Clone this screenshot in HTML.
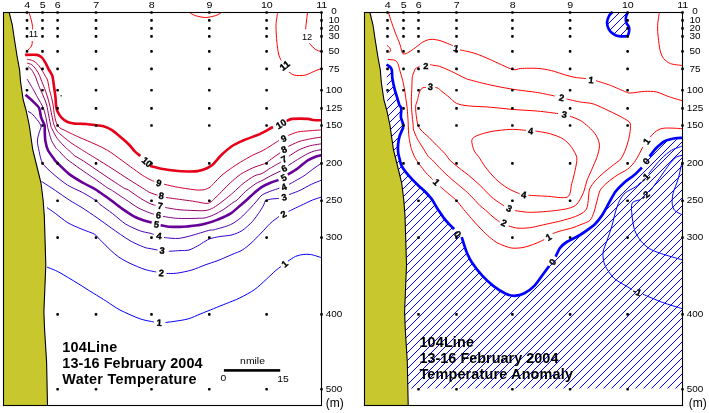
<!DOCTYPE html>
<html><head><meta charset="utf-8"><title>104 Line</title>
<style>
html,body{margin:0;padding:0;background:#fff}
svg{display:block;will-change:transform}
text{font-family:"Liberation Sans",Arial,sans-serif;fill:#000}
.tk{font-size:9.2px}
.ti{font-size:14.4px;font-weight:bold}
</style></head><body>
<svg width="709" height="413" viewBox="0 0 709 413">
<rect x="0" y="0" width="709" height="413" fill="#fff"/>
<polygon points="3.5,12.5 9.2,12.5 12.3,25.0 14.2,38.0 17.2,57.0 19.6,70.0 20.6,82.0 23.2,100.0 26.0,110.0 29.2,125.0 32.8,150.0 36.8,166.0 41.0,183.0 43.1,200.0 44.3,216.0 44.9,235.0 45.8,265.0 43.9,312.0 44.6,330.0 46.6,362.0 47.5,405.5 3.5,405.5" fill="rgb(200,200,46)"/>
<polyline points="9.2,12.5 12.3,25.0 14.2,38.0 17.2,57.0 19.6,70.0 20.6,82.0 23.2,100.0 26.0,110.0 29.2,125.0 32.8,150.0 36.8,166.0 41.0,183.0 43.1,200.0 44.3,216.0 44.9,235.0 45.8,265.0 43.9,312.0 44.6,330.0 46.6,362.0 47.5,405.5" fill="none" stroke="#000" stroke-width="1.1"/>
<rect x="60.5" y="95.2" width="1.2" height="1.2"/>
<path d="M29.0,12.5 C29.3,13.4 30.5,17.2 31.0,19.0 C31.5,20.8 32.1,23.5 32.3,25.0 C32.5,26.5 32.6,28.9 32.6,29.5" fill="none" stroke="rgb(255,0,0)" stroke-width="1" stroke-linecap="butt" stroke-linejoin="round"/>
<path d="M32.3,41.0 C32.2,41.7 32.3,44.6 31.5,46.0 C30.7,47.4 27.6,50.3 27.0,51.0" fill="none" stroke="rgb(255,0,0)" stroke-width="1" stroke-linecap="butt" stroke-linejoin="round"/>
<text transform="translate(33.4,33.4) rotate(0)" text-anchor="middle" y="3.3" style="font-size:9.2px">11</text>
<path d="M189.3,12.5 C190.2,12.9 193.0,14.9 195.3,15.6 C197.6,16.3 202.5,17.5 205.4,17.5 C208.3,17.5 213.3,16.3 215.6,15.6 C217.9,14.9 220.7,12.9 221.5,12.5" fill="none" stroke="rgb(255,0,0)" stroke-width="1" stroke-linecap="butt" stroke-linejoin="round"/>
<path d="M277.6,12.5 C277.4,14.3 276.1,21.1 276.0,25.4 C275.9,29.7 276.5,38.3 276.9,42.4 C277.3,46.5 278.0,51.4 278.6,54.0 C279.2,56.6 280.7,59.5 281.1,60.4" fill="none" stroke="rgb(255,0,0)" stroke-width="1" stroke-linecap="butt" stroke-linejoin="round"/>
<path d="M289.2,72.2 C289.9,72.6 292.2,74.8 294.4,75.2 C296.6,75.6 302.0,75.7 304.8,75.2 C307.6,74.7 311.3,72.5 313.7,71.5 C316.1,70.5 320.4,68.9 321.5,68.5" fill="none" stroke="rgb(255,0,0)" stroke-width="1" stroke-linecap="butt" stroke-linejoin="round"/>
<text transform="translate(284.6,65.5) rotate(-38)" text-anchor="middle" y="3.3" style="font-weight:bold;stroke:#000;stroke-width:0.35px;font-size:9.3px">11</text>
<path d="M307.5,12.5 C307.4,13.7 306.8,18.6 306.5,21.0 C306.2,23.4 305.7,28.0 305.6,29.2" fill="none" stroke="rgb(255,0,0)" stroke-width="1" stroke-linecap="butt" stroke-linejoin="round"/>
<path d="M309.3,43.3 C310.1,44.2 313.5,48.1 315.2,49.3 C316.9,50.5 320.6,51.4 321.5,51.7" fill="none" stroke="rgb(255,0,0)" stroke-width="1" stroke-linecap="butt" stroke-linejoin="round"/>
<text transform="translate(307.0,36.7) rotate(0)" text-anchor="middle" y="3.3" style="font-size:9.2px">12</text>
<path d="M47.0,267.1 C48.7,267.8 54.6,269.8 59.0,272.2 C63.4,274.6 73.2,280.6 78.1,283.6 C83.0,286.6 89.2,290.7 93.3,293.2 C97.4,295.7 102.8,299.0 106.6,301.4 C110.4,303.8 115.2,307.5 120.0,310.0 C124.8,312.5 135.2,317.1 140.0,318.8 C144.8,320.5 151.8,321.5 153.8,322.0" fill="none" stroke="rgb(0,0,255)" stroke-width="1" stroke-linecap="butt" stroke-linejoin="round"/>
<path d="M165.5,322.5 C166.7,322.3 170.9,321.9 174.1,321.4 C177.3,320.9 184.3,320.0 188.1,318.9 C191.9,317.8 197.2,315.3 200.8,313.8 C204.4,312.3 209.9,310.2 213.5,308.7 C217.1,307.2 222.4,305.1 226.2,303.6 C230.0,302.1 235.8,299.9 239.9,297.9 C244.0,295.9 251.0,292.1 254.8,289.4 C258.6,286.7 263.4,281.9 266.3,279.3 C269.2,276.7 273.1,272.8 275.2,271.0 C277.3,269.2 280.1,267.2 280.9,266.6" fill="none" stroke="rgb(0,0,255)" stroke-width="1" stroke-linecap="butt" stroke-linejoin="round"/>
<path d="M287.9,261.2 C289.0,260.5 293.3,257.4 295.5,256.4 C297.7,255.4 300.9,254.8 303.1,254.5 C305.3,254.2 308.1,254.1 310.7,254.5 C313.3,254.9 319.8,257.2 321.3,257.6" fill="none" stroke="rgb(0,0,255)" stroke-width="1" stroke-linecap="butt" stroke-linejoin="round"/>
<path d="M47.0,207.6 C48.2,208.4 52.2,211.1 55.2,213.3 C58.2,215.5 64.1,220.5 67.9,222.8 C71.7,225.1 78.1,227.6 81.9,229.2 C85.7,230.8 92.1,232.8 94.6,234.3 C97.1,235.8 97.4,237.1 99.7,239.4 C102.0,241.7 108.1,247.9 110.8,250.4 C113.5,252.9 116.0,255.2 118.7,257.0 C121.4,258.8 126.1,261.5 129.9,263.3 C133.7,265.1 141.2,268.3 145.0,269.5 C148.8,270.7 154.7,271.6 156.3,272.0" fill="none" stroke="rgb(26,0,230)" stroke-width="1" stroke-linecap="butt" stroke-linejoin="round"/>
<path d="M166.5,273.4 C168.0,273.4 173.1,273.7 176.7,273.2 C180.3,272.7 187.9,271.2 191.9,270.0 C195.9,268.8 201.3,266.4 205.0,265.0 C208.7,263.6 214.1,262.0 218.0,260.5 C221.9,259.0 228.5,256.0 232.0,254.5 C235.5,253.0 239.5,251.7 242.2,250.1 C244.9,248.5 248.3,245.6 251.0,243.2 C253.7,240.8 258.5,235.8 261.2,233.0 C263.9,230.2 267.6,225.9 270.1,223.5 C272.6,221.1 277.7,217.5 279.0,216.5" fill="none" stroke="rgb(26,0,230)" stroke-width="1" stroke-linecap="butt" stroke-linejoin="round"/>
<path d="M288.5,211.4 C290.2,210.6 297.1,207.3 300.5,205.7 C303.9,204.1 309.6,201.2 312.6,200.0 C315.6,198.8 320.1,197.5 321.3,197.1" fill="none" stroke="rgb(26,0,230)" stroke-width="1" stroke-linecap="butt" stroke-linejoin="round"/>
<path d="M41.5,181.4 C43.5,182.7 51.7,188.0 55.7,190.7 C59.7,193.4 65.5,197.6 69.2,200.0 C72.9,202.4 77.9,205.1 81.9,207.6 C85.9,210.1 92.9,214.9 97.1,217.8 C101.3,220.7 106.4,224.6 111.1,227.9 C115.8,231.2 125.1,237.8 129.9,240.6 C134.7,243.4 142.1,246.4 145.0,247.5 C147.9,248.6 148.2,248.1 150.0,248.5 C151.8,248.9 156.4,249.8 157.5,250.0" fill="none" stroke="rgb(51,0,204)" stroke-width="1" stroke-linecap="butt" stroke-linejoin="round"/>
<path d="M168.8,251.3 C170.4,251.2 177.1,250.8 180.0,250.6 C182.9,250.4 186.5,250.7 189.0,250.0 C191.5,249.3 195.2,247.2 197.5,246.0 C199.8,244.8 203.3,242.3 205.1,241.3 C206.9,240.3 207.9,239.4 210.0,238.7 C212.1,238.0 216.9,237.0 220.0,236.5 C223.1,236.0 228.8,235.8 232.0,234.9 C235.2,234.0 239.3,232.4 242.2,230.5 C245.1,228.6 249.8,224.3 252.3,221.6 C254.8,218.9 258.3,213.8 259.9,211.4 C261.5,209.0 262.9,206.5 263.7,205.0 C264.5,203.5 264.4,201.7 265.4,200.9 C266.4,200.1 268.6,199.6 270.5,199.2 C272.4,198.8 277.7,198.5 278.9,198.4" fill="none" stroke="rgb(51,0,204)" stroke-width="1" stroke-linecap="butt" stroke-linejoin="round"/>
<path d="M289.1,194.6 C290.7,194.0 296.9,191.8 300.1,190.3 C303.3,188.8 308.2,185.8 311.2,184.4 C314.2,183.0 319.9,180.8 321.3,180.2" fill="none" stroke="rgb(51,0,204)" stroke-width="1" stroke-linecap="butt" stroke-linejoin="round"/>
<path d="M28.0,111.4 C28.7,111.8 30.9,112.5 32.7,114.5 C34.5,116.5 39.9,122.7 40.8,125.3 C41.7,127.9 39.5,130.8 39.0,133.0 C38.5,135.2 37.4,138.4 37.4,141.0 C37.4,143.6 38.4,148.0 39.1,151.2 C39.8,154.4 40.6,160.0 42.6,163.2 C44.6,166.4 49.4,170.6 52.9,173.7 C56.4,176.8 63.2,182.3 67.4,185.0 C71.6,187.7 78.4,190.3 82.5,192.5 C86.6,194.7 93.5,198.9 96.0,200.6 C98.5,202.3 97.6,202.5 100.0,204.4 C102.4,206.3 109.1,210.9 112.7,213.7 C116.3,216.5 121.5,221.4 125.4,223.9 C129.3,226.4 136.8,229.6 140.3,230.9 C143.8,232.2 148.1,232.7 150.0,233.2 C151.9,233.7 153.3,234.3 153.8,234.5" fill="none" stroke="rgb(76,0,178)" stroke-width="1" stroke-linecap="butt" stroke-linejoin="round"/>
<path d="M164.0,237.5 C165.1,237.6 169.8,238.2 172.0,238.3 C174.2,238.4 177.0,238.7 179.7,238.3 C182.4,237.9 187.7,236.6 190.7,235.8 C193.7,235.0 198.0,233.6 200.8,232.8 C203.6,232.0 208.1,230.5 210.0,230.1 C211.9,229.7 211.4,230.5 214.3,229.7 C217.2,228.9 226.6,226.4 230.4,224.7 C234.2,223.0 237.9,220.1 240.6,217.9 C243.3,215.7 246.7,211.9 249.1,209.4 C251.5,206.9 255.7,202.2 257.5,200.1 C259.3,198.0 260.1,196.3 262.0,195.0 C263.9,193.7 268.0,192.2 270.5,191.2 C273.0,190.2 278.1,188.6 279.4,188.2" fill="none" stroke="rgb(76,0,178)" stroke-width="1" stroke-linecap="butt" stroke-linejoin="round"/>
<path d="M289.1,184.4 C290.7,183.5 297.8,179.4 300.1,178.1 C302.4,176.8 303.4,176.3 305.2,175.0 C307.0,173.7 310.5,170.9 312.8,169.2 C315.1,167.5 320.1,164.1 321.3,163.3" fill="none" stroke="rgb(76,0,178)" stroke-width="1" stroke-linecap="butt" stroke-linejoin="round"/>
<path d="M27.2,79.2 C27.7,80.0 29.8,83.7 30.6,85.0 C31.4,86.3 31.7,86.7 32.7,88.5 C33.7,90.3 36.3,95.1 37.8,97.8 C39.3,100.5 41.8,104.6 42.9,107.1 C44.0,109.6 44.7,112.5 45.4,115.2 C46.1,117.9 47.1,124.1 47.5,126.2 C47.9,128.3 47.8,128.0 48.4,130.0 C49.0,132.0 50.3,137.5 51.4,140.2 C52.5,142.9 55.4,147.2 56.4,148.6 C57.4,150.0 57.4,149.2 58.5,150.3 C59.6,151.4 62.5,154.9 64.1,156.5 C65.7,158.1 67.1,159.4 69.9,161.5 C72.7,163.6 79.8,168.6 83.5,171.2 C87.2,173.8 92.5,177.3 96.0,179.7 C99.5,182.1 105.5,186.5 107.7,188.0 C109.9,189.5 108.9,188.4 111.4,190.0 C113.9,191.6 121.6,196.8 125.4,199.3 C129.2,201.8 134.9,206.0 138.1,207.8 C141.3,209.6 145.3,211.1 147.5,212.0 C149.7,212.9 152.9,213.9 153.8,214.2" fill="none" stroke="rgb(128,0,128)" stroke-width="1" stroke-linecap="butt" stroke-linejoin="round"/>
<path d="M163.1,216.4 C164.9,216.7 171.8,217.9 175.4,218.2 C179.0,218.5 184.7,218.5 188.1,218.5 C191.5,218.5 196.8,218.3 199.2,218.2 C201.6,218.1 203.0,218.4 205.0,217.9 C207.0,217.4 210.8,216.1 213.5,214.9 C216.2,213.7 220.8,211.2 223.6,209.4 C226.4,207.6 231.1,203.9 233.0,202.6 C234.9,201.3 235.3,201.6 237.1,200.0 C238.9,198.4 243.0,193.6 245.7,191.3 C248.4,189.0 253.5,185.1 255.8,183.6 C258.1,182.1 259.9,181.7 262.0,180.6 C264.1,179.5 267.8,177.3 270.5,175.9 C273.2,174.5 279.2,171.7 280.6,171.0" fill="none" stroke="rgb(128,0,128)" stroke-width="1" stroke-linecap="butt" stroke-linejoin="round"/>
<path d="M288.3,165.4 C289.6,164.6 294.8,161.2 297.6,159.5 C300.4,157.8 305.4,154.8 307.8,153.6 C310.2,152.4 312.6,151.6 314.5,151.0 C316.4,150.4 320.3,149.9 321.3,149.7" fill="none" stroke="rgb(128,0,128)" stroke-width="1" stroke-linecap="butt" stroke-linejoin="round"/>
<path d="M28.0,66.5 C28.6,67.0 30.9,68.9 31.9,70.3 C32.9,71.7 34.6,74.9 35.3,76.3 C36.0,77.7 36.1,78.4 36.7,80.0 C37.3,81.6 38.5,85.2 39.5,87.6 C40.5,90.0 42.7,94.5 43.7,97.0 C44.7,99.5 46.0,102.3 46.7,105.0 C47.4,107.7 48.2,113.0 48.8,116.0 C49.4,119.0 50.4,124.2 50.9,126.2 C51.4,128.2 51.7,128.2 52.6,130.0 C53.5,131.8 55.4,136.0 57.3,138.5 C59.2,141.0 64.2,146.2 65.8,147.8 C67.4,149.4 67.4,148.9 68.6,150.0 C69.8,151.1 72.1,153.8 74.2,155.4 C76.3,157.0 80.4,159.0 83.5,161.0 C86.6,163.0 91.9,166.7 96.0,169.5 C100.1,172.3 108.0,177.7 112.0,180.3 C116.0,182.9 121.5,186.6 123.8,188.0 C126.1,189.4 126.0,188.5 128.4,190.0 C130.8,191.5 137.6,196.6 140.7,198.5 C143.8,200.4 147.9,202.6 150.0,203.6 C152.1,204.6 154.7,205.1 155.5,205.3" fill="none" stroke="rgb(153,0,102)" stroke-width="1" stroke-linecap="butt" stroke-linejoin="round"/>
<path d="M165.3,207.5 C167.1,207.8 174.4,209.2 178.0,209.6 C181.6,210.0 186.8,210.3 190.7,210.4 C194.6,210.5 201.7,211.0 205.0,210.6 C208.3,210.2 211.1,209.0 213.5,207.7 C215.9,206.4 219.5,203.6 221.9,201.8 C224.3,200.0 228.7,196.4 230.4,195.0 C232.1,193.6 232.0,193.7 233.8,192.1 C235.6,190.5 240.2,185.9 243.1,183.6 C246.0,181.3 251.5,177.4 254.2,176.0 C256.9,174.6 259.7,174.6 262.0,173.5 C264.3,172.4 267.8,169.6 270.5,168.0 C273.2,166.4 279.6,162.9 281.1,162.0" fill="none" stroke="rgb(153,0,102)" stroke-width="1" stroke-linecap="butt" stroke-linejoin="round"/>
<path d="M289.1,156.1 C290.4,155.3 295.5,151.7 298.4,150.2 C301.3,148.7 306.2,146.8 309.5,145.9 C312.8,145.0 319.6,144.1 321.3,143.8" fill="none" stroke="rgb(153,0,102)" stroke-width="1" stroke-linecap="butt" stroke-linejoin="round"/>
<path d="M27.2,63.1 C27.9,63.3 30.6,63.9 31.9,64.8 C33.2,65.7 35.0,68.0 36.1,69.5 C37.2,71.0 38.8,73.9 39.5,75.4 C40.2,76.9 40.5,78.1 41.2,80.0 C41.9,81.9 43.7,86.1 44.6,88.5 C45.5,90.9 46.8,94.6 47.5,97.0 C48.2,99.4 49.1,102.4 49.7,105.0 C50.3,107.6 51.2,112.4 51.8,115.2 C52.4,118.0 53.1,122.2 53.9,124.5 C54.7,126.8 56.1,129.7 57.3,131.3 C58.5,132.9 60.5,134.4 62.4,136.0 C64.3,137.6 68.3,140.9 70.8,142.7 C73.3,144.5 78.4,147.6 80.0,148.6 C81.6,149.6 79.9,148.6 82.2,150.0 C84.5,151.4 91.7,155.9 96.0,158.5 C100.3,161.1 107.3,165.5 112.0,168.5 C116.7,171.5 124.5,176.7 128.9,179.5 C133.3,182.3 139.5,186.1 142.5,188.0 C145.5,189.9 147.8,191.6 150.0,192.6 C152.2,193.6 156.5,194.8 157.6,195.2" fill="none" stroke="rgb(178,0,77)" stroke-width="1" stroke-linecap="butt" stroke-linejoin="round"/>
<path d="M166.1,197.5 C168.0,197.8 175.9,198.9 179.7,199.4 C183.5,199.9 188.9,200.6 192.4,201.1 C195.9,201.6 201.8,202.9 204.2,203.2 C206.6,203.5 207.9,203.5 209.2,203.0 C210.5,202.5 211.7,201.4 213.5,199.7 C215.3,198.0 219.5,193.7 221.9,191.3 C224.3,188.9 227.7,185.2 230.4,182.8 C233.1,180.4 237.4,176.4 240.6,174.3 C243.8,172.2 249.4,169.4 252.5,168.0 C255.6,166.6 260.0,165.3 262.0,164.6 C264.0,163.9 264.6,163.9 266.2,162.9 C267.8,161.9 271.0,159.3 273.0,157.8 C275.0,156.3 279.2,153.4 280.2,152.7" fill="none" stroke="rgb(178,0,77)" stroke-width="1" stroke-linecap="butt" stroke-linejoin="round"/>
<path d="M288.3,146.4 C289.6,145.8 295.5,142.9 297.6,142.1 C299.7,141.3 300.5,141.0 302.7,140.5 C304.9,140.0 310.1,138.9 312.8,138.4 C315.5,137.9 320.1,137.3 321.3,137.1" fill="none" stroke="rgb(178,0,77)" stroke-width="1" stroke-linecap="butt" stroke-linejoin="round"/>
<path d="M27.2,59.3 C28.0,59.5 31.2,59.9 32.7,60.6 C34.2,61.3 36.5,63.0 37.8,64.4 C39.1,65.8 40.9,68.6 42.0,70.3 C43.1,72.0 44.6,74.9 45.4,76.3 C46.2,77.7 47.0,78.3 47.5,80.0 C48.0,81.7 48.6,85.8 49.2,88.5 C49.8,91.2 51.2,96.2 51.8,98.6 C52.4,101.0 52.7,102.8 53.1,105.0 C53.5,107.2 53.8,111.8 54.3,114.3 C54.8,116.8 55.6,120.9 56.4,122.8 C57.2,124.7 58.7,126.9 59.8,127.9 C60.9,128.9 62.3,129.1 64.1,130.0 C65.9,130.9 70.2,133.1 72.5,134.2 C74.8,135.3 76.8,136.2 80.0,137.6 C83.2,139.0 91.0,142.3 95.0,144.1 C99.0,145.9 103.9,148.1 107.7,150.4 C111.5,152.7 118.0,157.7 121.3,160.0 C124.6,162.3 127.6,164.6 130.6,166.8 C133.6,169.0 139.7,173.5 142.5,175.3 C145.3,177.1 148.3,178.7 150.0,179.6 C151.7,180.5 153.6,181.1 154.2,181.3" fill="none" stroke="rgb(204,0,51)" stroke-width="1" stroke-linecap="butt" stroke-linejoin="round"/>
<path d="M164.0,184.2 C165.6,184.6 172.0,186.1 175.4,186.8 C178.8,187.5 184.9,188.4 188.1,188.9 C191.3,189.4 195.2,189.9 197.5,190.0 C199.8,190.1 202.4,190.1 204.2,189.7 C206.0,189.3 208.7,188.1 210.0,187.2 C211.3,186.3 211.8,185.3 213.5,183.6 C215.2,181.9 219.5,177.3 221.9,175.2 C224.3,173.1 227.7,170.7 230.4,168.8 C233.1,166.9 237.4,164.0 240.6,162.1 C243.8,160.2 249.4,156.9 252.5,155.3 C255.6,153.7 259.4,152.3 262.0,151.0 C264.6,149.7 268.1,147.4 270.5,145.9 C272.9,144.4 277.7,141.3 278.9,140.5" fill="none" stroke="rgb(204,0,51)" stroke-width="1" stroke-linecap="butt" stroke-linejoin="round"/>
<path d="M288.3,135.4 C289.6,134.9 294.6,132.7 297.6,132.0 C300.6,131.3 306.1,131.1 309.5,130.8 C312.9,130.5 319.6,130.0 321.3,129.9" fill="none" stroke="rgb(204,0,51)" stroke-width="1" stroke-linecap="butt" stroke-linejoin="round"/>
<path d="M25.5,94.8 C26.5,95.7 30.8,99.3 32.7,101.2 C34.6,103.1 37.9,105.6 39.1,108.0 C40.3,110.4 40.4,115.2 41.2,117.7 C42.0,120.2 44.1,123.5 44.6,125.3 C45.1,127.1 44.6,127.8 44.7,130.0 C44.8,132.2 44.9,138.1 45.4,141.0 C45.9,143.9 46.7,147.5 47.9,150.0 C49.1,152.5 52.6,157.0 53.9,158.8 C55.2,160.6 54.9,160.4 57.2,162.7 C59.5,165.0 66.1,171.7 69.9,174.6 C73.7,177.5 79.9,180.9 83.5,183.0 C87.1,185.1 92.6,187.8 95.0,189.2 C97.4,190.6 97.7,190.9 100.0,192.5 C102.3,194.1 107.9,197.9 111.0,200.2 C114.1,202.5 118.7,206.3 122.0,208.6 C125.3,210.9 130.7,214.6 133.9,216.3 C137.1,218.0 141.6,219.6 144.1,220.5 C146.6,221.4 150.6,222.3 151.7,222.6" fill="none" stroke="rgb(102,0,153)" stroke-width="2.6" stroke-linecap="butt" stroke-linejoin="round"/>
<path d="M160.6,225.2 C161.7,225.4 165.9,226.5 168.6,226.7 C171.3,226.9 176.9,226.9 179.7,226.9 C182.5,226.9 185.6,226.6 188.1,226.4 C190.6,226.2 195.1,225.7 197.5,225.3 C199.9,224.9 202.1,224.6 205.0,223.8 C207.9,223.0 214.1,221.1 217.7,219.6 C221.3,218.1 227.1,215.7 230.4,213.6 C233.7,211.5 238.3,207.1 240.6,205.2 C242.9,203.3 244.7,201.7 246.6,200.0 C248.5,198.3 252.0,194.9 254.2,193.0 C256.4,191.1 259.7,188.4 262.0,186.9 C264.3,185.4 268.1,183.7 270.5,182.7 C272.9,181.7 277.4,180.4 278.5,180.0" fill="none" stroke="rgb(102,0,153)" stroke-width="2.6" stroke-linecap="butt" stroke-linejoin="round"/>
<path d="M287.8,174.7 C289.2,173.8 294.7,170.6 297.6,168.5 C300.5,166.4 305.1,162.0 307.8,160.3 C310.5,158.6 314.3,157.2 316.2,156.5 C318.1,155.8 320.6,155.5 321.3,155.3" fill="none" stroke="rgb(102,0,153)" stroke-width="2.6" stroke-linecap="butt" stroke-linejoin="round"/>
<path d="M25.1,54.9 C26.8,54.9 34.5,54.5 36.9,54.9 C39.3,55.3 40.8,56.5 42.0,57.6 C43.2,58.7 44.4,61.0 45.4,62.7 C46.4,64.4 47.8,67.7 48.8,69.5 C49.8,71.3 51.6,73.9 52.2,75.4 C52.8,76.9 52.8,78.1 53.1,80.0 C53.4,81.9 53.9,85.8 54.3,88.5 C54.7,91.2 55.4,96.2 55.6,98.6 C55.8,101.0 55.8,103.2 56.0,105.0 C56.2,106.8 56.5,109.2 57.3,111.0 C58.1,112.8 60.0,116.1 61.5,117.7 C63.0,119.3 65.7,121.2 67.5,122.0 C69.3,122.8 72.4,123.3 74.2,123.6 C76.0,123.9 78.3,123.7 80.0,123.8 C81.7,123.9 84.1,123.8 86.2,124.0 C88.3,124.2 92.5,124.7 95.0,125.0 C97.5,125.3 101.1,125.6 103.5,126.3 C105.9,127.0 109.6,128.6 112.0,130.1 C114.4,131.6 118.0,134.8 120.4,136.9 C122.8,139.0 126.8,142.4 128.9,144.5 C131.0,146.6 133.2,149.7 134.8,151.3 C136.4,152.9 139.5,155.2 140.3,155.9" fill="none" stroke="rgb(230,0,25)" stroke-width="2.6" stroke-linecap="butt" stroke-linejoin="round"/>
<path d="M150.0,166.0 C151.8,166.4 159.1,168.3 162.7,169.0 C166.3,169.7 171.8,170.3 175.4,170.7 C179.0,171.1 184.9,171.4 188.1,171.5 C191.3,171.6 195.1,171.5 197.5,171.1 C199.9,170.7 203.3,169.7 205.1,169.0 C206.9,168.3 208.8,167.1 210.0,166.4 C211.2,165.7 211.8,165.5 213.5,163.8 C215.2,162.1 219.2,157.0 221.9,154.5 C224.6,152.0 229.1,148.0 232.1,146.0 C235.1,144.0 239.5,142.1 243.1,140.5 C246.7,138.9 254.8,136.1 257.5,135.0 C260.2,133.9 259.8,134.0 262.0,132.9 C264.2,131.8 271.4,127.8 273.0,127.0" fill="none" stroke="rgb(230,0,25)" stroke-width="2.6" stroke-linecap="butt" stroke-linejoin="round"/>
<path d="M286.6,121.0 C287.4,120.7 289.5,119.2 292.5,118.9 C295.5,118.6 304.9,118.7 307.8,118.9 C310.7,119.1 310.9,119.8 312.8,120.0 C314.7,120.2 320.1,120.2 321.3,120.2" fill="none" stroke="rgb(230,0,25)" stroke-width="2.6" stroke-linecap="butt" stroke-linejoin="round"/>
<rect x="25.7" y="11.2" width="2.6" height="2.6" rx="0.8"/>
<rect x="25.7" y="19.1" width="2.6" height="2.6" rx="0.8"/>
<rect x="25.7" y="27.1" width="2.6" height="2.6" rx="0.8"/>
<rect x="25.7" y="35.1" width="2.6" height="2.6" rx="0.8"/>
<rect x="25.7" y="50.1" width="2.6" height="2.6" rx="0.8"/>
<rect x="25.7" y="67.6" width="2.6" height="2.6" rx="0.8"/>
<rect x="25.7" y="88.9" width="2.6" height="2.6" rx="0.8"/>
<rect x="41.2" y="11.2" width="2.6" height="2.6" rx="0.8"/>
<rect x="41.2" y="19.1" width="2.6" height="2.6" rx="0.8"/>
<rect x="41.2" y="27.1" width="2.6" height="2.6" rx="0.8"/>
<rect x="41.2" y="35.1" width="2.6" height="2.6" rx="0.8"/>
<rect x="41.2" y="50.1" width="2.6" height="2.6" rx="0.8"/>
<rect x="41.2" y="67.6" width="2.6" height="2.6" rx="0.8"/>
<rect x="41.2" y="88.9" width="2.6" height="2.6" rx="0.8"/>
<rect x="41.2" y="107.1" width="2.6" height="2.6" rx="0.8"/>
<rect x="41.2" y="124.2" width="2.6" height="2.6" rx="0.8"/>
<rect x="41.2" y="162.1" width="2.6" height="2.6" rx="0.8"/>
<rect x="56.3" y="11.2" width="2.6" height="2.6" rx="0.8"/>
<rect x="56.3" y="19.1" width="2.6" height="2.6" rx="0.8"/>
<rect x="56.3" y="27.1" width="2.6" height="2.6" rx="0.8"/>
<rect x="56.3" y="35.1" width="2.6" height="2.6" rx="0.8"/>
<rect x="56.3" y="50.1" width="2.6" height="2.6" rx="0.8"/>
<rect x="56.3" y="67.6" width="2.6" height="2.6" rx="0.8"/>
<rect x="56.3" y="88.9" width="2.6" height="2.6" rx="0.8"/>
<rect x="56.3" y="107.1" width="2.6" height="2.6" rx="0.8"/>
<rect x="56.3" y="124.2" width="2.6" height="2.6" rx="0.8"/>
<rect x="56.3" y="162.1" width="2.6" height="2.6" rx="0.8"/>
<rect x="56.3" y="199.5" width="2.6" height="2.6" rx="0.8"/>
<rect x="56.3" y="236.3" width="2.6" height="2.6" rx="0.8"/>
<rect x="56.3" y="313.1" width="2.6" height="2.6" rx="0.8"/>
<rect x="56.3" y="387.9" width="2.6" height="2.6" rx="0.8"/>
<rect x="94.7" y="11.2" width="2.6" height="2.6" rx="0.8"/>
<rect x="94.7" y="19.1" width="2.6" height="2.6" rx="0.8"/>
<rect x="94.7" y="27.1" width="2.6" height="2.6" rx="0.8"/>
<rect x="94.7" y="35.1" width="2.6" height="2.6" rx="0.8"/>
<rect x="94.7" y="50.1" width="2.6" height="2.6" rx="0.8"/>
<rect x="94.7" y="67.6" width="2.6" height="2.6" rx="0.8"/>
<rect x="94.7" y="88.9" width="2.6" height="2.6" rx="0.8"/>
<rect x="94.7" y="107.1" width="2.6" height="2.6" rx="0.8"/>
<rect x="94.7" y="124.2" width="2.6" height="2.6" rx="0.8"/>
<rect x="94.7" y="162.1" width="2.6" height="2.6" rx="0.8"/>
<rect x="94.7" y="199.5" width="2.6" height="2.6" rx="0.8"/>
<rect x="94.7" y="236.3" width="2.6" height="2.6" rx="0.8"/>
<rect x="94.7" y="313.1" width="2.6" height="2.6" rx="0.8"/>
<rect x="94.7" y="387.9" width="2.6" height="2.6" rx="0.8"/>
<rect x="150.2" y="11.2" width="2.6" height="2.6" rx="0.8"/>
<rect x="150.2" y="19.1" width="2.6" height="2.6" rx="0.8"/>
<rect x="150.2" y="27.1" width="2.6" height="2.6" rx="0.8"/>
<rect x="150.2" y="35.1" width="2.6" height="2.6" rx="0.8"/>
<rect x="150.2" y="50.1" width="2.6" height="2.6" rx="0.8"/>
<rect x="150.2" y="67.6" width="2.6" height="2.6" rx="0.8"/>
<rect x="150.2" y="88.9" width="2.6" height="2.6" rx="0.8"/>
<rect x="150.2" y="107.1" width="2.6" height="2.6" rx="0.8"/>
<rect x="150.2" y="124.2" width="2.6" height="2.6" rx="0.8"/>
<rect x="150.2" y="162.1" width="2.6" height="2.6" rx="0.8"/>
<rect x="150.2" y="199.5" width="2.6" height="2.6" rx="0.8"/>
<rect x="150.2" y="236.3" width="2.6" height="2.6" rx="0.8"/>
<rect x="150.2" y="313.1" width="2.6" height="2.6" rx="0.8"/>
<rect x="150.2" y="387.9" width="2.6" height="2.6" rx="0.8"/>
<rect x="208.0" y="11.2" width="2.6" height="2.6" rx="0.8"/>
<rect x="208.0" y="19.1" width="2.6" height="2.6" rx="0.8"/>
<rect x="208.0" y="27.1" width="2.6" height="2.6" rx="0.8"/>
<rect x="208.0" y="35.1" width="2.6" height="2.6" rx="0.8"/>
<rect x="208.0" y="50.1" width="2.6" height="2.6" rx="0.8"/>
<rect x="208.0" y="67.6" width="2.6" height="2.6" rx="0.8"/>
<rect x="208.0" y="88.9" width="2.6" height="2.6" rx="0.8"/>
<rect x="208.0" y="107.1" width="2.6" height="2.6" rx="0.8"/>
<rect x="208.0" y="124.2" width="2.6" height="2.6" rx="0.8"/>
<rect x="208.0" y="162.1" width="2.6" height="2.6" rx="0.8"/>
<rect x="208.0" y="199.5" width="2.6" height="2.6" rx="0.8"/>
<rect x="208.0" y="236.3" width="2.6" height="2.6" rx="0.8"/>
<rect x="208.0" y="313.1" width="2.6" height="2.6" rx="0.8"/>
<rect x="208.0" y="387.9" width="2.6" height="2.6" rx="0.8"/>
<rect x="265.3" y="11.2" width="2.6" height="2.6" rx="0.8"/>
<rect x="265.3" y="19.1" width="2.6" height="2.6" rx="0.8"/>
<rect x="265.3" y="27.1" width="2.6" height="2.6" rx="0.8"/>
<rect x="265.3" y="35.1" width="2.6" height="2.6" rx="0.8"/>
<rect x="265.3" y="50.1" width="2.6" height="2.6" rx="0.8"/>
<rect x="265.3" y="67.6" width="2.6" height="2.6" rx="0.8"/>
<rect x="265.3" y="88.9" width="2.6" height="2.6" rx="0.8"/>
<rect x="265.3" y="107.1" width="2.6" height="2.6" rx="0.8"/>
<rect x="265.3" y="124.2" width="2.6" height="2.6" rx="0.8"/>
<rect x="265.3" y="162.1" width="2.6" height="2.6" rx="0.8"/>
<rect x="265.3" y="199.5" width="2.6" height="2.6" rx="0.8"/>
<rect x="265.3" y="236.3" width="2.6" height="2.6" rx="0.8"/>
<rect x="265.3" y="313.1" width="2.6" height="2.6" rx="0.8"/>
<rect x="265.3" y="387.9" width="2.6" height="2.6" rx="0.8"/>
<rect x="320.2" y="11.2" width="2.6" height="2.6" rx="0.8"/>
<rect x="320.2" y="19.1" width="2.6" height="2.6" rx="0.8"/>
<rect x="320.2" y="27.1" width="2.6" height="2.6" rx="0.8"/>
<rect x="320.2" y="35.1" width="2.6" height="2.6" rx="0.8"/>
<rect x="320.2" y="50.1" width="2.6" height="2.6" rx="0.8"/>
<rect x="320.2" y="67.6" width="2.6" height="2.6" rx="0.8"/>
<rect x="320.2" y="88.9" width="2.6" height="2.6" rx="0.8"/>
<rect x="320.2" y="107.1" width="2.6" height="2.6" rx="0.8"/>
<rect x="320.2" y="124.2" width="2.6" height="2.6" rx="0.8"/>
<rect x="320.2" y="162.1" width="2.6" height="2.6" rx="0.8"/>
<rect x="320.2" y="199.5" width="2.6" height="2.6" rx="0.8"/>
<rect x="320.2" y="236.3" width="2.6" height="2.6" rx="0.8"/>
<rect x="320.2" y="313.1" width="2.6" height="2.6" rx="0.8"/>
<rect x="320.2" y="387.9" width="2.6" height="2.6" rx="0.8"/>
<text transform="translate(147.0,162.0) rotate(40)" text-anchor="middle" y="3.3" style="font-weight:bold;stroke:#000;stroke-width:0.35px;font-size:9.3px">10</text>
<text transform="translate(281.1,124.0) rotate(-30)" text-anchor="middle" y="3.3" style="font-weight:bold;stroke:#000;stroke-width:0.35px;font-size:9.3px">10</text>
<text transform="translate(158.9,183.0) rotate(15)" text-anchor="middle" y="3.3" style="font-weight:bold;stroke:#000;stroke-width:0.35px;font-size:9.3px">9</text>
<text transform="translate(283.6,138.4) rotate(-25)" text-anchor="middle" y="3.3" style="font-weight:bold;stroke:#000;stroke-width:0.35px;font-size:9.3px">9</text>
<text transform="translate(161.4,195.6) rotate(10)" text-anchor="middle" y="3.3" style="font-weight:bold;stroke:#000;stroke-width:0.35px;font-size:9.3px">8</text>
<text transform="translate(284.0,149.3) rotate(-25)" text-anchor="middle" y="3.3" style="font-weight:bold;stroke:#000;stroke-width:0.35px;font-size:9.3px">8</text>
<text transform="translate(160.2,205.8) rotate(8)" text-anchor="middle" y="3.3" style="font-weight:bold;stroke:#000;stroke-width:0.35px;font-size:9.3px">7</text>
<text transform="translate(284.0,159.1) rotate(-28)" text-anchor="middle" y="3.3" style="font-weight:bold;stroke:#000;stroke-width:0.35px;font-size:9.3px">7</text>
<text transform="translate(158.5,215.1) rotate(8)" text-anchor="middle" y="3.3" style="font-weight:bold;stroke:#000;stroke-width:0.35px;font-size:9.3px">6</text>
<text transform="translate(284.2,168.4) rotate(-28)" text-anchor="middle" y="3.3" style="font-weight:bold;stroke:#000;stroke-width:0.35px;font-size:9.3px">6</text>
<text transform="translate(156.4,224.3) rotate(8)" text-anchor="middle" y="3.3" style="font-weight:bold;stroke:#000;stroke-width:0.35px;font-size:9.3px">5</text>
<text transform="translate(283.6,177.6) rotate(-28)" text-anchor="middle" y="3.3" style="font-weight:bold;stroke:#000;stroke-width:0.35px;font-size:9.3px">5</text>
<text transform="translate(158.9,235.8) rotate(8)" text-anchor="middle" y="3.3" style="font-weight:bold;stroke:#000;stroke-width:0.35px;font-size:9.3px">4</text>
<text transform="translate(283.9,186.9) rotate(-22)" text-anchor="middle" y="3.3" style="font-weight:bold;stroke:#000;stroke-width:0.35px;font-size:9.3px">4</text>
<text transform="translate(162.0,250.5) rotate(5)" text-anchor="middle" y="3.3" style="font-weight:bold;stroke:#000;stroke-width:0.35px;font-size:9.3px">3</text>
<text transform="translate(284.2,197.1) rotate(-15)" text-anchor="middle" y="3.3" style="font-weight:bold;stroke:#000;stroke-width:0.35px;font-size:9.3px">3</text>
<text transform="translate(161.3,273.0) rotate(5)" text-anchor="middle" y="3.3" style="font-weight:bold;stroke:#000;stroke-width:0.35px;font-size:9.3px">2</text>
<text transform="translate(283.4,214.0) rotate(-28)" text-anchor="middle" y="3.3" style="font-weight:bold;stroke:#000;stroke-width:0.35px;font-size:9.3px">2</text>
<text transform="translate(159.3,322.5) rotate(3)" text-anchor="middle" y="3.3" style="font-weight:bold;stroke:#000;stroke-width:0.35px;font-size:9.3px">1</text>
<text transform="translate(284.5,263.8) rotate(-40)" text-anchor="middle" y="3.3" style="font-weight:bold;stroke:#000;stroke-width:0.35px;font-size:9.3px">1</text>
<rect x="3.5" y="12.5" width="318.0" height="393.0" fill="none" stroke="#000" stroke-width="1.1"/>
<text class="tk" transform="translate(27.2,8.1) scale(1.16,1)" text-anchor="middle">4</text>
<text class="tk" transform="translate(42.7,8.1) scale(1.16,1)" text-anchor="middle">5</text>
<text class="tk" transform="translate(57.8,8.1) scale(1.16,1)" text-anchor="middle">6</text>
<text class="tk" transform="translate(96.2,8.1) scale(1.16,1)" text-anchor="middle">7</text>
<text class="tk" transform="translate(151.7,8.1) scale(1.16,1)" text-anchor="middle">8</text>
<text class="tk" transform="translate(209.5,8.1) scale(1.16,1)" text-anchor="middle">9</text>
<text class="tk" transform="translate(266.8,8.1) scale(1.16,1)" text-anchor="middle">10</text>
<text class="tk" transform="translate(321.7,8.1) scale(1.16,1)" text-anchor="middle">11</text>
<text class="tk" transform="translate(334.1,14.3) scale(1.08,1)" text-anchor="middle">0</text>
<text class="tk" transform="translate(334.1,23.0) scale(1.08,1)" text-anchor="middle">10</text>
<text class="tk" transform="translate(334.1,31.0) scale(1.08,1)" text-anchor="middle">20</text>
<text class="tk" transform="translate(334.1,39.0) scale(1.08,1)" text-anchor="middle">30</text>
<text class="tk" transform="translate(334.1,54.0) scale(1.08,1)" text-anchor="middle">50</text>
<text class="tk" transform="translate(334.1,71.5) scale(1.08,1)" text-anchor="middle">75</text>
<text class="tk" transform="translate(334.1,92.8) scale(1.08,1)" text-anchor="middle">100</text>
<text class="tk" transform="translate(334.1,111.0) scale(1.08,1)" text-anchor="middle">125</text>
<text class="tk" transform="translate(334.1,128.1) scale(1.08,1)" text-anchor="middle">150</text>
<text class="tk" transform="translate(334.1,166.0) scale(1.08,1)" text-anchor="middle">200</text>
<text class="tk" transform="translate(334.1,203.4) scale(1.08,1)" text-anchor="middle">250</text>
<text class="tk" transform="translate(334.1,240.2) scale(1.08,1)" text-anchor="middle">300</text>
<text class="tk" transform="translate(334.1,317.0) scale(1.08,1)" text-anchor="middle">400</text>
<text class="tk" transform="translate(334.1,391.8) scale(1.08,1)" text-anchor="middle">500</text>
<text transform="translate(334.7,407.2)" text-anchor="middle" style="font-size:12px">(m)</text>
<text class="ti" x="62.3" y="351.6" textLength="55" lengthAdjust="spacing">104Line</text>
<text class="ti" x="62.3" y="367.6" textLength="140.2" lengthAdjust="spacing">13-16 February 2004</text>
<text class="ti" x="62.3" y="383.6" textLength="134.2" lengthAdjust="spacing">Water Temperature</text>
<rect x="223.9" y="369.1" width="56.3" height="2.6"/>
<text class="tk" transform="translate(252.5,364) scale(1.13,1)" text-anchor="middle">nmile</text>
<text class="tk" transform="translate(223.3,381.2) scale(1.13,1)" text-anchor="middle">0</text>
<text class="tk" transform="translate(283,381.6) scale(1.13,1)" text-anchor="middle">15</text>
<defs><pattern id="h" patternUnits="userSpaceOnUse" x="0" y="0" width="8" height="8"><rect x="0" y="7" width="1" height="1" fill="rgb(0,0,255)"/><rect x="1" y="6" width="1" height="1" fill="rgb(0,0,255)"/><rect x="2" y="5" width="1" height="1" fill="rgb(0,0,255)"/><rect x="3" y="4" width="1" height="1" fill="rgb(0,0,255)"/><rect x="4" y="3" width="1" height="1" fill="rgb(0,0,255)"/><rect x="5" y="2" width="1" height="1" fill="rgb(0,0,255)"/><rect x="6" y="1" width="1" height="1" fill="rgb(0,0,255)"/><rect x="7" y="0" width="1" height="1" fill="rgb(0,0,255)"/></pattern></defs>
<polygon points="386.5,64.6 389.9,66.7 391.8,70.0 392.4,78.5 394.5,88.6 397.5,98.8 399.4,105.1 401.3,108.5 400.9,117.0 403.0,123.7 403.0,128.0 401.9,130.5 399.4,136.8 398.1,144.4 398.1,152.0 399.8,159.7 401.3,165.1 405.6,171.9 411.5,178.6 418.3,185.4 425.2,191.8 431.9,199.4 437.0,207.9 442.1,215.5 443.5,217.6 449.4,224.4 454.1,229.1 461.7,237.1 464.2,245.0 467.0,253.0 471.6,262.0 482.0,275.4 493.9,286.4 505.8,293.7 514.2,295.8 524.4,293.2 534.6,285.6 544.7,272.0 549.0,266.1 555.6,256.6 560.0,248.0 566.0,242.5 580.0,235.0 590.0,228.2 595.1,224.0 601.9,215.5 608.6,203.6 615.4,191.8 624.1,182.7 634.2,175.1 641.9,167.5 649.5,156.4 656.3,148.0 664.7,141.2 674.9,138.3 682.0,137.8 682.5,137.8 682.5,388.6 407.6,388.6 407.3,362.0 405.3,330.0 404.6,312.0 406.5,265.0 405.6,235.0 405.0,216.0 403.8,200.0 401.7,183.0 397.5,166.0 393.5,150.0 389.9,125.0 386.9,112.0 386.9,64.6" fill="url(#h)"/>
<path d="M612.8,11.8 C612.3,12.4 609.8,14.4 609.0,16.0 C608.2,17.6 607.0,20.9 607.0,22.8 C607.0,24.7 608.1,28.0 609.0,29.6 C609.9,31.2 612.2,33.3 613.6,34.2 C615.0,35.1 616.9,35.9 618.7,36.2 C620.5,36.5 625.1,36.5 626.4,36.4 C627.7,36.3 627.4,36.4 627.8,35.6 C628.2,34.8 629.0,32.2 629.2,31.0 C629.4,29.8 629.3,28.0 629.0,27.0 C628.7,26.0 627.5,24.9 627.0,24.0 C626.5,23.1 625.9,21.6 625.8,20.5 C625.7,19.4 625.9,17.1 626.2,16.0 C626.5,14.9 627.4,13.0 627.6,12.5 Z" fill="url(#h)"/>
<polygon points="364.2,12.5 369.9,12.5 373.0,25.0 374.9,38.0 377.9,57.0 380.3,70.0 381.3,82.0 383.9,100.0 386.7,110.0 389.9,125.0 393.5,150.0 397.5,166.0 401.7,183.0 403.8,200.0 405.0,216.0 405.6,235.0 406.5,265.0 404.6,312.0 405.3,330.0 407.3,362.0 408.2,405.5 364.2,405.5" fill="rgb(200,200,46)"/>
<polyline points="369.9,12.5 373.0,25.0 374.9,38.0 377.9,57.0 380.3,70.0 381.3,82.0 383.9,100.0 386.7,110.0 389.9,125.0 393.5,150.0 397.5,166.0 401.7,183.0 403.8,200.0 405.0,216.0 405.6,235.0 406.5,265.0 404.6,312.0 405.3,330.0 407.3,362.0 408.2,405.5" fill="none" stroke="#000" stroke-width="1.1"/>
<path d="M388.5,12.5 C388.9,13.7 390.2,18.3 391.0,20.7 C391.8,23.1 393.2,26.9 394.0,29.2 C394.8,31.5 396.1,34.8 396.9,36.8 C397.7,38.8 398.9,41.5 399.5,43.0 C400.1,44.5 400.4,46.1 400.8,47.5 C401.2,48.9 401.8,51.6 402.2,52.5 C402.6,53.4 403.0,53.9 403.6,54.0 C404.2,54.1 405.3,53.9 406.5,53.4 C407.7,52.9 410.2,51.4 411.9,50.2 C413.6,49.0 417.2,46.2 418.7,45.1 C420.2,44.0 421.1,43.0 422.4,42.3 C423.7,41.6 426.1,40.4 427.5,40.0 C428.9,39.6 430.7,39.2 432.5,39.3 C434.3,39.4 438.1,40.1 440.0,40.6 C441.9,41.1 444.2,42.1 446.0,42.8 C447.8,43.5 451.7,45.2 452.6,45.6" fill="none" stroke="rgb(255,0,0)" stroke-width="1" stroke-linecap="butt" stroke-linejoin="round"/>
<path d="M460.0,49.9 C462.1,50.4 470.7,52.0 475.0,53.4 C479.3,54.8 485.0,57.3 490.3,59.6 C495.6,61.9 508.0,68.1 512.4,69.4 C516.8,70.7 517.2,68.5 520.8,68.4 C524.4,68.3 533.4,68.1 537.8,68.4 C542.2,68.7 547.5,69.7 551.4,70.6 C555.3,71.5 561.5,73.8 564.9,74.8 C568.3,75.8 572.1,76.9 575.1,77.4 C578.1,77.9 584.3,78.4 585.8,78.6" fill="none" stroke="rgb(255,0,0)" stroke-width="1" stroke-linecap="butt" stroke-linejoin="round"/>
<path d="M596.1,80.7 C598.2,81.4 606.3,83.8 610.5,85.4 C614.7,87.0 622.9,90.8 625.8,91.9 C628.7,93.0 628.1,93.1 630.8,93.0 C633.5,92.9 640.8,91.6 644.4,91.4 C648.0,91.2 652.9,91.2 656.3,91.9 C659.7,92.6 664.4,95.1 668.1,96.4 C671.8,97.7 680.0,100.1 682.0,100.7" fill="none" stroke="rgb(255,0,0)" stroke-width="1" stroke-linecap="butt" stroke-linejoin="round"/>
<path d="M387.7,59.5 C388.7,59.6 393.4,59.7 394.9,60.3 C396.4,60.9 397.2,62.4 397.9,63.7 C398.6,65.0 398.9,67.3 399.6,69.7 C400.3,72.1 401.9,77.3 402.6,80.2 C403.3,83.1 404.2,87.5 404.7,90.3 C405.2,93.1 405.6,97.1 406.0,99.7 C406.4,102.3 406.9,105.4 407.2,108.5 C407.5,111.6 407.9,118.1 408.1,121.2 C408.3,124.3 408.2,127.5 408.4,130.0 C408.6,132.5 408.8,135.8 409.2,138.5 C409.6,141.2 410.5,145.9 411.3,148.6 C412.1,151.3 413.7,155.0 414.7,157.1 C415.7,159.2 417.7,161.9 418.5,163.0 C419.3,164.1 418.9,163.7 420.0,165.1 C421.1,166.5 424.1,170.6 425.9,172.7 C427.7,174.8 431.7,178.5 432.7,179.5" fill="none" stroke="rgb(255,0,0)" stroke-width="1" stroke-linecap="butt" stroke-linejoin="round"/>
<path d="M440.3,186.7 C441.3,187.5 445.0,190.7 447.2,192.6 C449.4,194.5 453.5,197.6 455.7,199.8 C457.9,202.0 461.3,206.4 462.5,207.9 C463.7,209.4 462.9,208.5 464.2,210.0 C465.5,211.5 469.3,216.1 471.4,218.5 C473.5,220.9 476.8,224.6 479.1,227.0 C481.4,229.4 485.2,233.3 487.5,235.4 C489.8,237.5 493.3,240.2 495.0,241.4 C496.7,242.6 497.0,242.9 499.3,243.8 C501.6,244.7 507.8,247.5 511.2,248.0 C514.6,248.5 519.6,248.1 523.0,247.5 C526.4,246.9 531.9,244.9 534.9,243.8 C537.9,242.7 542.9,240.2 544.2,239.6" fill="none" stroke="rgb(255,0,0)" stroke-width="1" stroke-linecap="butt" stroke-linejoin="round"/>
<path d="M552.7,233.6 C553.7,233.2 557.2,231.9 560.0,231.1 C562.8,230.3 569.0,228.9 572.0,228.0 C575.0,227.1 578.4,225.6 581.0,224.5 C583.6,223.4 588.1,222.1 590.0,220.3 C591.9,218.5 592.9,215.0 594.0,212.0 C595.1,209.0 596.6,202.1 597.5,199.0 C598.4,195.9 598.9,192.3 600.3,190.0 C601.7,187.7 604.7,184.8 607.1,182.7 C609.5,180.6 614.4,177.0 617.3,175.1 C620.2,173.2 625.1,171.0 627.5,169.2 C629.9,167.4 632.5,164.6 634.2,162.4 C635.9,160.2 638.1,156.1 639.3,153.9 C640.5,151.7 642.2,148.1 642.7,147.1" fill="none" stroke="rgb(255,0,0)" stroke-width="1" stroke-linecap="butt" stroke-linejoin="round"/>
<path d="M650.3,137.0 C651.2,136.1 654.2,132.3 656.3,131.0 C658.4,129.7 661.0,128.4 664.7,128.1 C668.4,127.8 679.5,128.5 682.0,128.6" fill="none" stroke="rgb(255,0,0)" stroke-width="1" stroke-linecap="butt" stroke-linejoin="round"/>
<path d="M419.5,66.3 C418.9,66.7 416.1,68.0 415.3,68.8 C414.5,69.6 414.4,70.9 414.0,72.0 C413.6,73.1 412.6,74.7 412.3,76.8 C412.0,78.9 412.0,83.6 411.9,86.9 C411.8,90.2 411.3,96.3 411.3,100.0 C411.3,103.7 411.6,109.1 411.9,112.7 C412.2,116.3 413.0,122.9 413.2,125.4 C413.4,127.9 413.0,128.1 413.6,130.0 C414.2,131.9 416.0,136.1 417.2,138.5 C418.4,140.9 420.7,144.5 422.3,147.0 C423.9,149.5 426.8,154.4 428.2,156.3 C429.6,158.2 430.9,158.6 432.3,160.0 C433.7,161.4 436.1,164.1 437.8,165.9 C439.5,167.7 442.5,170.8 444.5,172.7 C446.5,174.6 450.0,177.7 452.0,179.5 C454.0,181.3 456.4,183.1 458.6,185.0 C460.8,186.9 465.2,190.4 467.5,192.6 C469.8,194.8 473.2,198.4 475.0,200.3 C476.8,202.2 478.7,204.4 480.2,205.8 C481.7,207.2 483.9,208.7 485.4,210.0 C486.9,211.3 489.5,213.9 490.9,215.1 C492.3,216.3 493.7,217.5 495.0,218.5 C496.3,219.5 499.0,221.5 499.7,222.0" fill="none" stroke="rgb(255,0,0)" stroke-width="1" stroke-linecap="butt" stroke-linejoin="round"/>
<path d="M508.6,226.0 C509.9,226.3 515.0,228.0 518.0,228.2 C521.0,228.4 526.4,228.1 529.8,227.7 C533.2,227.3 536.9,226.3 541.7,225.2 C546.5,224.1 557.9,221.7 563.2,220.3 C568.5,218.9 575.2,216.8 578.5,215.2 C581.8,213.6 585.1,211.5 586.5,209.0 C587.9,206.5 588.1,200.7 588.5,198.0 C588.9,195.3 588.6,192.2 589.3,190.0 C590.0,187.8 591.8,185.0 593.6,182.7 C595.4,180.4 599.3,176.6 602.0,174.2 C604.7,171.8 609.5,168.0 612.2,165.8 C614.9,163.6 618.8,161.4 620.7,159.0 C622.6,156.6 624.6,151.9 625.8,148.8 C627.0,145.7 628.5,140.1 629.2,137.0 C629.9,133.9 630.5,129.0 630.5,126.8 C630.5,124.6 630.4,123.2 629.2,121.9 C628.0,120.6 625.3,119.2 622.4,117.6 C619.5,116.0 612.9,112.7 608.8,110.8 C604.7,108.9 597.7,105.3 593.6,104.0 C589.5,102.7 584.1,102.7 580.2,102.0 C576.3,101.3 568.5,99.4 566.6,99.0" fill="none" stroke="rgb(255,0,0)" stroke-width="1" stroke-linecap="butt" stroke-linejoin="round"/>
<path d="M554.7,96.0 C552.3,95.5 543.8,93.6 537.8,92.6 C531.8,91.6 519.2,90.3 512.4,89.2 C505.6,88.1 496.4,86.3 490.3,85.0 C484.2,83.7 473.6,80.9 470.0,79.9 C466.4,78.9 467.7,79.4 465.1,78.2 C462.5,77.0 455.1,73.1 451.5,71.4 C447.9,69.7 442.2,67.3 439.7,66.4 C437.2,65.5 435.3,65.7 433.9,65.4 C432.5,65.1 430.6,64.7 430.1,64.6" fill="none" stroke="rgb(255,0,0)" stroke-width="1" stroke-linecap="butt" stroke-linejoin="round"/>
<path d="M425.9,87.4 C425.4,87.5 423.0,87.5 422.1,88.2 C421.2,88.9 420.1,90.5 419.5,92.0 C418.9,93.5 418.1,97.5 417.8,98.8 C417.5,100.1 417.5,100.0 417.2,101.0 C416.9,102.0 415.9,104.0 415.7,105.9 C415.5,107.8 415.8,111.7 416.1,114.4 C416.4,117.1 417.1,122.4 417.8,124.6 C418.5,126.8 419.4,128.1 421.0,130.0 C422.6,131.9 426.9,135.4 429.1,137.6 C431.3,139.8 434.4,143.0 436.7,145.3 C439.0,147.6 443.0,151.5 445.0,153.7 C447.0,155.9 448.1,158.5 450.5,160.8 C452.9,163.1 459.1,167.9 461.7,170.0 C464.3,172.1 465.9,173.0 468.5,175.2 C471.1,177.4 476.8,182.3 480.2,185.5 C483.6,188.7 488.6,194.5 492.0,197.4 C495.4,200.3 502.2,204.6 503.9,205.8" fill="none" stroke="rgb(255,0,0)" stroke-width="1" stroke-linecap="butt" stroke-linejoin="round"/>
<path d="M514.9,210.6 C517.0,210.8 524.1,212.2 529.3,212.3 C534.5,212.4 545.8,211.6 551.4,211.0 C557.0,210.4 564.7,209.4 568.3,208.4 C571.9,207.4 574.6,206.5 576.8,204.2 C579.0,201.9 582.2,195.6 583.6,192.3 C585.0,189.0 585.6,184.3 586.8,181.0 C588.0,177.7 590.5,172.6 591.9,169.2 C593.3,165.8 595.8,160.7 596.9,157.3 C598.0,153.9 599.6,148.5 599.5,145.4 C599.4,142.3 597.7,138.0 596.1,135.3 C594.5,132.6 590.8,128.9 588.5,126.8 C586.2,124.7 582.8,121.9 580.2,120.4 C577.6,118.9 571.5,116.8 570.0,116.2" fill="none" stroke="rgb(255,0,0)" stroke-width="1" stroke-linecap="butt" stroke-linejoin="round"/>
<path d="M558.1,113.6 C555.2,113.2 544.3,111.7 537.8,111.1 C531.3,110.5 519.2,110.0 512.4,109.4 C505.6,108.8 496.6,107.7 490.3,107.2 C484.0,106.7 473.3,106.4 468.5,105.9 C463.7,105.4 459.3,104.6 456.6,103.4 C453.9,102.2 452.0,99.5 449.8,97.7 C447.6,95.9 443.1,92.4 441.4,91.0 C439.7,89.6 438.9,88.7 438.0,88.2 C437.1,87.7 435.6,87.5 435.2,87.4" fill="none" stroke="rgb(255,0,0)" stroke-width="1" stroke-linecap="butt" stroke-linejoin="round"/>
<path d="M525.9,130.3 C523.7,130.2 515.5,129.2 510.7,129.4 C505.9,129.6 496.8,130.5 492.0,131.4 C487.2,132.3 479.7,134.4 476.8,135.7 C473.9,137.0 472.2,138.1 471.8,140.3 C471.4,142.5 473.2,148.6 474.2,150.9 C475.2,153.2 476.9,154.2 478.5,156.5 C480.1,158.8 482.9,163.7 485.3,166.9 C487.7,170.1 492.3,175.7 495.4,178.7 C498.5,181.7 503.8,185.8 507.3,188.0 C510.8,190.2 517.8,193.0 519.6,193.8" fill="none" stroke="rgb(255,0,0)" stroke-width="1" stroke-linecap="butt" stroke-linejoin="round"/>
<path d="M528.5,195.3 C531.0,195.4 540.7,196.0 546.3,196.2 C551.9,196.4 563.9,198.8 567.5,197.0 C571.1,195.2 570.6,187.6 571.7,183.8 C572.8,180.0 574.4,174.0 575.1,170.3 C575.8,166.6 577.3,161.0 576.8,157.7 C576.3,154.4 573.6,150.2 571.7,147.5 C569.8,144.8 566.3,141.0 563.2,139.0 C560.1,137.0 553.7,134.7 549.7,133.6 C545.7,132.5 537.5,131.4 535.5,131.0" fill="none" stroke="rgb(255,0,0)" stroke-width="1" stroke-linecap="butt" stroke-linejoin="round"/>
<path d="M386.9,45.1 C387.3,45.5 389.4,47.3 389.9,48.1 C390.4,48.9 390.6,49.9 390.5,50.6 C390.4,51.3 389.2,52.4 389.0,52.7" fill="none" stroke="rgb(255,0,0)" stroke-width="1" stroke-linecap="butt" stroke-linejoin="round"/>
<path d="M659.3,12.5 C659.1,14.3 657.8,21.9 657.6,25.4 C657.4,28.9 657.8,33.7 658.2,37.3 C658.6,40.9 659.4,47.8 660.2,50.8 C661.0,53.8 662.1,56.7 663.6,58.5 C665.1,60.3 667.8,62.6 670.4,63.6 C673.0,64.6 680.3,65.2 682.0,65.5" fill="none" stroke="rgb(255,0,0)" stroke-width="1" stroke-linecap="butt" stroke-linejoin="round"/>
<path d="M682.0,146.0 C681.7,146.1 681.3,146.4 679.8,147.0 C678.3,147.6 674.1,148.6 671.4,150.3 C668.7,152.0 664.1,155.9 661.2,158.8 C658.3,161.7 652.8,168.5 651.0,170.7 C649.2,172.9 648.9,173.5 648.6,174.0" fill="none" stroke="rgb(0,0,255)" stroke-width="1" stroke-linecap="butt" stroke-linejoin="round"/>
<path d="M641.0,181.9 C640.3,182.6 638.0,185.2 635.8,186.7 C633.6,188.2 627.9,190.7 625.6,192.6 C623.3,194.5 621.2,197.5 619.7,200.3 C618.2,203.1 616.5,208.5 615.4,212.1 C614.3,215.7 613.2,221.6 612.0,225.7 C610.8,229.8 608.2,237.0 606.9,240.9 C605.6,244.8 603.3,249.2 603.0,252.7 C602.7,256.2 603.4,261.8 605.0,265.4 C606.6,269.0 610.6,275.0 613.9,278.1 C617.2,281.2 625.3,285.4 627.9,287.0 C630.5,288.6 631.4,289.1 632.0,289.5" fill="none" stroke="rgb(0,0,255)" stroke-width="1" stroke-linecap="butt" stroke-linejoin="round"/>
<path d="M643.0,294.2 C645.7,295.4 656.6,300.2 662.2,302.3 C667.8,304.4 679.2,307.7 682.0,308.6" fill="none" stroke="rgb(0,0,255)" stroke-width="1" stroke-linecap="butt" stroke-linejoin="round"/>
<path d="M682.0,155.4 C681.2,155.6 678.2,155.9 676.4,157.1 C674.6,158.3 671.9,161.2 669.7,163.9 C667.5,166.6 663.6,172.4 661.2,175.8 C658.8,179.2 654.4,185.3 652.7,187.6 C651.0,189.9 649.8,191.2 649.3,191.8" fill="none" stroke="rgb(0,0,255)" stroke-width="1" stroke-linecap="butt" stroke-linejoin="round"/>
<path d="M641.0,199.5 C639.9,199.9 634.6,200.9 633.2,202.0 C631.8,203.1 631.6,204.6 631.5,207.0 C631.4,209.4 631.9,215.5 632.4,218.9 C632.9,222.3 633.7,227.7 634.9,230.8 C636.1,233.9 638.7,238.4 640.8,240.9 C642.9,243.4 646.4,246.8 649.3,248.6 C652.2,250.4 656.5,252.0 661.2,253.6 C665.9,255.2 679.0,258.9 682.0,259.8" fill="none" stroke="rgb(0,0,255)" stroke-width="1" stroke-linecap="butt" stroke-linejoin="round"/>
<path d="M682.0,162.2 C681.4,164.6 679.4,174.7 678.1,179.2 C676.8,183.7 673.8,190.0 673.0,193.5 C672.2,197.0 672.0,201.2 672.2,203.6 C672.4,206.0 673.3,208.8 674.7,210.4 C676.1,212.0 681.0,214.1 682.0,214.7" fill="none" stroke="rgb(0,0,255)" stroke-width="1" stroke-linecap="butt" stroke-linejoin="round"/>
<path d="M386.5,64.6 C387.0,64.9 389.1,65.9 389.9,66.7 C390.7,67.5 391.4,68.3 391.8,70.0 C392.2,71.7 392.0,75.8 392.4,78.5 C392.8,81.2 393.8,85.7 394.5,88.6 C395.2,91.5 396.8,96.4 397.5,98.8 C398.2,101.2 398.9,103.7 399.4,105.1 C399.9,106.5 401.1,106.8 401.3,108.5 C401.5,110.2 400.7,114.8 400.9,117.0 C401.1,119.2 402.7,122.1 403.0,123.7 C403.3,125.3 403.2,127.0 403.0,128.0 C402.8,129.0 402.4,129.2 401.9,130.5 C401.4,131.8 399.9,134.8 399.4,136.8 C398.9,138.8 398.3,142.2 398.1,144.4 C397.9,146.6 397.9,149.8 398.1,152.0 C398.3,154.2 399.3,157.8 399.8,159.7 C400.3,161.6 400.5,163.4 401.3,165.1 C402.1,166.8 404.1,170.0 405.6,171.9 C407.1,173.8 409.7,176.7 411.5,178.6 C413.3,180.5 416.3,183.5 418.3,185.4 C420.3,187.3 423.3,189.8 425.2,191.8 C427.1,193.8 430.2,197.1 431.9,199.4 C433.6,201.7 435.5,205.6 437.0,207.9 C438.5,210.2 441.2,214.1 442.1,215.5 C443.0,216.9 442.5,216.3 443.5,217.6 C444.5,218.9 447.9,222.8 449.4,224.4 C450.9,226.0 453.4,228.4 454.1,229.1" fill="none" stroke="rgb(0,0,255)" stroke-width="2.7" stroke-linecap="butt" stroke-linejoin="round"/>
<path d="M461.7,237.1 C462.1,238.2 463.4,242.7 464.2,245.0 C465.0,247.3 465.9,250.6 467.0,253.0 C468.1,255.4 469.5,258.8 471.6,262.0 C473.7,265.2 478.8,271.9 482.0,275.4 C485.2,278.9 490.5,283.8 493.9,286.4 C497.3,289.0 502.9,292.4 505.8,293.7 C508.7,295.0 511.5,295.9 514.2,295.8 C516.9,295.7 521.5,294.7 524.4,293.2 C527.3,291.7 531.7,288.6 534.6,285.6 C537.5,282.6 542.6,274.8 544.7,272.0 C546.8,269.2 548.4,266.9 549.0,266.1" fill="none" stroke="rgb(0,0,255)" stroke-width="2.7" stroke-linecap="butt" stroke-linejoin="round"/>
<path d="M555.6,256.6 C556.2,255.4 558.5,250.0 560.0,248.0 C561.5,246.0 563.1,244.4 566.0,242.5 C568.9,240.6 576.6,237.0 580.0,235.0 C583.4,233.0 587.8,229.8 590.0,228.2 C592.2,226.6 593.4,225.8 595.1,224.0 C596.8,222.2 600.0,218.4 601.9,215.5 C603.8,212.6 606.7,207.0 608.6,203.6 C610.5,200.2 613.2,194.8 615.4,191.8 C617.6,188.8 621.4,185.1 624.1,182.7 C626.8,180.3 631.7,177.3 634.2,175.1 C636.7,172.9 640.8,168.6 641.9,167.5" fill="none" stroke="rgb(0,0,255)" stroke-width="2.7" stroke-linecap="butt" stroke-linejoin="round"/>
<path d="M649.5,156.4 C650.5,155.2 654.1,150.2 656.3,148.0 C658.5,145.8 662.0,142.6 664.7,141.2 C667.4,139.8 672.4,138.8 674.9,138.3 C677.4,137.8 681.0,137.9 682.0,137.8" fill="none" stroke="rgb(0,0,255)" stroke-width="2.7" stroke-linecap="butt" stroke-linejoin="round"/>
<path d="M612.8,11.8 C612.3,12.4 609.8,14.4 609.0,16.0 C608.2,17.6 607.0,20.9 607.0,22.8 C607.0,24.7 608.1,28.0 609.0,29.6 C609.9,31.2 612.2,33.3 613.6,34.2 C615.0,35.1 616.9,35.9 618.7,36.2 C620.5,36.5 625.3,36.4 626.4,36.4" fill="none" stroke="rgb(0,0,255)" stroke-width="2.7"/>
<path d="M626.4,36.4 C626.6,36.3 627.4,36.4 627.8,35.6 C628.2,34.8 629.0,32.2 629.2,31.0 C629.4,29.8 629.3,28.0 629.0,27.0 C628.7,26.0 627.5,24.9 627.0,24.0 C626.5,23.1 625.9,21.6 625.8,20.5 C625.7,19.4 625.9,17.1 626.2,16.0 C626.5,14.9 627.4,13.0 627.6,12.5" fill="none" stroke="rgb(0,0,255)" stroke-width="2.6"/>
<rect x="386.2" y="11.2" width="2.6" height="2.6" rx="0.8"/>
<rect x="386.2" y="19.1" width="2.6" height="2.6" rx="0.8"/>
<rect x="386.2" y="27.1" width="2.6" height="2.6" rx="0.8"/>
<rect x="386.2" y="35.1" width="2.6" height="2.6" rx="0.8"/>
<rect x="386.2" y="50.1" width="2.6" height="2.6" rx="0.8"/>
<rect x="386.2" y="67.6" width="2.6" height="2.6" rx="0.8"/>
<rect x="386.2" y="88.9" width="2.6" height="2.6" rx="0.8"/>
<rect x="402.2" y="11.2" width="2.6" height="2.6" rx="0.8"/>
<rect x="402.2" y="19.1" width="2.6" height="2.6" rx="0.8"/>
<rect x="402.2" y="27.1" width="2.6" height="2.6" rx="0.8"/>
<rect x="402.2" y="35.1" width="2.6" height="2.6" rx="0.8"/>
<rect x="402.2" y="50.1" width="2.6" height="2.6" rx="0.8"/>
<rect x="402.2" y="67.6" width="2.6" height="2.6" rx="0.8"/>
<rect x="402.2" y="88.9" width="2.6" height="2.6" rx="0.8"/>
<rect x="402.2" y="107.1" width="2.6" height="2.6" rx="0.8"/>
<rect x="402.2" y="124.2" width="2.6" height="2.6" rx="0.8"/>
<rect x="402.2" y="162.1" width="2.6" height="2.6" rx="0.8"/>
<rect x="417.2" y="11.2" width="2.6" height="2.6" rx="0.8"/>
<rect x="417.2" y="19.1" width="2.6" height="2.6" rx="0.8"/>
<rect x="417.2" y="27.1" width="2.6" height="2.6" rx="0.8"/>
<rect x="417.2" y="35.1" width="2.6" height="2.6" rx="0.8"/>
<rect x="417.2" y="50.1" width="2.6" height="2.6" rx="0.8"/>
<rect x="417.2" y="67.6" width="2.6" height="2.6" rx="0.8"/>
<rect x="417.2" y="88.9" width="2.6" height="2.6" rx="0.8"/>
<rect x="417.2" y="107.1" width="2.6" height="2.6" rx="0.8"/>
<rect x="417.2" y="124.2" width="2.6" height="2.6" rx="0.8"/>
<rect x="417.2" y="162.1" width="2.6" height="2.6" rx="0.8"/>
<rect x="417.2" y="199.5" width="2.6" height="2.6" rx="0.8"/>
<rect x="417.2" y="236.3" width="2.6" height="2.6" rx="0.8"/>
<rect x="417.2" y="313.1" width="2.6" height="2.6" rx="0.8"/>
<rect x="417.2" y="387.9" width="2.6" height="2.6" rx="0.8"/>
<rect x="455.2" y="11.2" width="2.6" height="2.6" rx="0.8"/>
<rect x="455.2" y="19.1" width="2.6" height="2.6" rx="0.8"/>
<rect x="455.2" y="27.1" width="2.6" height="2.6" rx="0.8"/>
<rect x="455.2" y="35.1" width="2.6" height="2.6" rx="0.8"/>
<rect x="455.2" y="50.1" width="2.6" height="2.6" rx="0.8"/>
<rect x="455.2" y="67.6" width="2.6" height="2.6" rx="0.8"/>
<rect x="455.2" y="88.9" width="2.6" height="2.6" rx="0.8"/>
<rect x="455.2" y="107.1" width="2.6" height="2.6" rx="0.8"/>
<rect x="455.2" y="124.2" width="2.6" height="2.6" rx="0.8"/>
<rect x="455.2" y="162.1" width="2.6" height="2.6" rx="0.8"/>
<rect x="455.2" y="199.5" width="2.6" height="2.6" rx="0.8"/>
<rect x="455.2" y="236.3" width="2.6" height="2.6" rx="0.8"/>
<rect x="455.2" y="313.1" width="2.6" height="2.6" rx="0.8"/>
<rect x="455.2" y="387.9" width="2.6" height="2.6" rx="0.8"/>
<rect x="511.1" y="11.2" width="2.6" height="2.6" rx="0.8"/>
<rect x="511.1" y="19.1" width="2.6" height="2.6" rx="0.8"/>
<rect x="511.1" y="27.1" width="2.6" height="2.6" rx="0.8"/>
<rect x="511.1" y="35.1" width="2.6" height="2.6" rx="0.8"/>
<rect x="511.1" y="50.1" width="2.6" height="2.6" rx="0.8"/>
<rect x="511.1" y="67.6" width="2.6" height="2.6" rx="0.8"/>
<rect x="511.1" y="88.9" width="2.6" height="2.6" rx="0.8"/>
<rect x="511.1" y="107.1" width="2.6" height="2.6" rx="0.8"/>
<rect x="511.1" y="124.2" width="2.6" height="2.6" rx="0.8"/>
<rect x="511.1" y="162.1" width="2.6" height="2.6" rx="0.8"/>
<rect x="511.1" y="199.5" width="2.6" height="2.6" rx="0.8"/>
<rect x="511.1" y="236.3" width="2.6" height="2.6" rx="0.8"/>
<rect x="511.1" y="313.1" width="2.6" height="2.6" rx="0.8"/>
<rect x="511.1" y="387.9" width="2.6" height="2.6" rx="0.8"/>
<rect x="568.8" y="11.2" width="2.6" height="2.6" rx="0.8"/>
<rect x="568.8" y="19.1" width="2.6" height="2.6" rx="0.8"/>
<rect x="568.8" y="27.1" width="2.6" height="2.6" rx="0.8"/>
<rect x="568.8" y="35.1" width="2.6" height="2.6" rx="0.8"/>
<rect x="568.8" y="50.1" width="2.6" height="2.6" rx="0.8"/>
<rect x="568.8" y="67.6" width="2.6" height="2.6" rx="0.8"/>
<rect x="568.8" y="88.9" width="2.6" height="2.6" rx="0.8"/>
<rect x="568.8" y="107.1" width="2.6" height="2.6" rx="0.8"/>
<rect x="568.8" y="124.2" width="2.6" height="2.6" rx="0.8"/>
<rect x="568.8" y="162.1" width="2.6" height="2.6" rx="0.8"/>
<rect x="568.8" y="199.5" width="2.6" height="2.6" rx="0.8"/>
<rect x="568.8" y="236.3" width="2.6" height="2.6" rx="0.8"/>
<rect x="568.8" y="313.1" width="2.6" height="2.6" rx="0.8"/>
<rect x="568.8" y="387.9" width="2.6" height="2.6" rx="0.8"/>
<rect x="626.3" y="11.2" width="2.6" height="2.6" rx="0.8"/>
<rect x="626.3" y="19.1" width="2.6" height="2.6" rx="0.8"/>
<rect x="626.3" y="27.1" width="2.6" height="2.6" rx="0.8"/>
<rect x="626.3" y="35.1" width="2.6" height="2.6" rx="0.8"/>
<rect x="626.3" y="50.1" width="2.6" height="2.6" rx="0.8"/>
<rect x="626.3" y="67.6" width="2.6" height="2.6" rx="0.8"/>
<rect x="626.3" y="88.9" width="2.6" height="2.6" rx="0.8"/>
<rect x="626.3" y="107.1" width="2.6" height="2.6" rx="0.8"/>
<rect x="626.3" y="124.2" width="2.6" height="2.6" rx="0.8"/>
<rect x="626.3" y="162.1" width="2.6" height="2.6" rx="0.8"/>
<rect x="626.3" y="199.5" width="2.6" height="2.6" rx="0.8"/>
<rect x="626.3" y="236.3" width="2.6" height="2.6" rx="0.8"/>
<rect x="626.3" y="313.1" width="2.6" height="2.6" rx="0.8"/>
<rect x="626.3" y="387.9" width="2.6" height="2.6" rx="0.8"/>
<rect x="681.2" y="11.2" width="2.6" height="2.6" rx="0.8"/>
<rect x="681.2" y="19.1" width="2.6" height="2.6" rx="0.8"/>
<rect x="681.2" y="27.1" width="2.6" height="2.6" rx="0.8"/>
<rect x="681.2" y="35.1" width="2.6" height="2.6" rx="0.8"/>
<rect x="681.2" y="50.1" width="2.6" height="2.6" rx="0.8"/>
<rect x="681.2" y="67.6" width="2.6" height="2.6" rx="0.8"/>
<rect x="681.2" y="88.9" width="2.6" height="2.6" rx="0.8"/>
<rect x="681.2" y="107.1" width="2.6" height="2.6" rx="0.8"/>
<rect x="681.2" y="124.2" width="2.6" height="2.6" rx="0.8"/>
<rect x="681.2" y="162.1" width="2.6" height="2.6" rx="0.8"/>
<rect x="681.2" y="199.5" width="2.6" height="2.6" rx="0.8"/>
<rect x="681.2" y="236.3" width="2.6" height="2.6" rx="0.8"/>
<rect x="681.2" y="313.1" width="2.6" height="2.6" rx="0.8"/>
<rect x="681.2" y="387.9" width="2.6" height="2.6" rx="0.8"/>
<text transform="translate(456.2,48.2) rotate(15)" text-anchor="middle" y="3.3" style="font-weight:bold;stroke:#000;stroke-width:0.35px;font-size:9.3px">1</text>
<text transform="translate(591.0,80.0) rotate(5)" text-anchor="middle" y="3.3" style="font-weight:bold;stroke:#000;stroke-width:0.35px;font-size:9.3px">1</text>
<text transform="translate(425.8,65.5) rotate(0)" text-anchor="middle" y="3.3" style="font-weight:bold;stroke:#000;stroke-width:0.35px;font-size:9.3px">2</text>
<text transform="translate(561.5,97.7) rotate(10)" text-anchor="middle" y="3.3" style="font-weight:bold;stroke:#000;stroke-width:0.35px;font-size:9.3px">2</text>
<text transform="translate(430.3,86.7) rotate(5)" text-anchor="middle" y="3.3" style="font-weight:bold;stroke:#000;stroke-width:0.35px;font-size:9.3px">3</text>
<text transform="translate(564.4,114.5) rotate(10)" text-anchor="middle" y="3.3" style="font-weight:bold;stroke:#000;stroke-width:0.35px;font-size:9.3px">3</text>
<text transform="translate(530.7,130.9) rotate(5)" text-anchor="middle" y="3.3" style="font-weight:bold;stroke:#000;stroke-width:0.35px;font-size:9.3px">4</text>
<text transform="translate(523.9,194.8) rotate(10)" text-anchor="middle" y="3.3" style="font-weight:bold;stroke:#000;stroke-width:0.35px;font-size:9.3px">4</text>
<text transform="translate(509.3,208.4) rotate(25)" text-anchor="middle" y="3.3" style="font-weight:bold;stroke:#000;stroke-width:0.35px;font-size:9.3px">3</text>
<text transform="translate(503.9,222.8) rotate(25)" text-anchor="middle" y="3.3" style="font-weight:bold;stroke:#000;stroke-width:0.35px;font-size:9.3px">2</text>
<text transform="translate(436.3,182.0) rotate(45)" text-anchor="middle" y="3.3" style="font-weight:bold;stroke:#000;stroke-width:0.35px;font-size:9.3px">1</text>
<text transform="translate(548.5,237.0) rotate(-30)" text-anchor="middle" y="3.3" style="font-weight:bold;stroke:#000;stroke-width:0.35px;font-size:9.3px">1</text>
<text transform="translate(457.8,234.0) rotate(55)" text-anchor="middle" y="3.3" style="font-weight:bold;stroke:#000;stroke-width:0.35px;font-size:9.3px">0</text>
<text transform="translate(552.4,262.0) rotate(-55)" text-anchor="middle" y="3.3" style="font-weight:bold;stroke:#000;stroke-width:0.35px;font-size:9.3px">0</text>
<text transform="translate(646.1,161.2) rotate(-50)" text-anchor="middle" y="3.3" style="font-weight:bold;stroke:#000;stroke-width:0.35px;font-size:9.3px">0</text>
<text transform="translate(646.6,141.2) rotate(-55)" text-anchor="middle" y="3.3" style="font-weight:bold;stroke:#000;stroke-width:0.35px;font-size:9.3px">1</text>
<text transform="translate(645.1,177.6) rotate(-45)" text-anchor="middle" y="3.3" style="font-weight:bold;stroke:#000;stroke-width:0.35px;font-size:9.3px">-1</text>
<text transform="translate(645.1,195.4) rotate(-40)" text-anchor="middle" y="3.3" style="font-weight:bold;stroke:#000;stroke-width:0.35px;font-size:9.3px">-2</text>
<text transform="translate(637.3,291.8) rotate(22)" text-anchor="middle" y="3.3" style="font-weight:bold;stroke:#000;stroke-width:0.35px;font-size:9.3px">-1</text>
<rect x="364.5" y="12.5" width="318.0" height="393.0" fill="none" stroke="#000" stroke-width="1.1"/>
<text class="tk" transform="translate(387.7,8.1) scale(1.16,1)" text-anchor="middle">4</text>
<text class="tk" transform="translate(403.7,8.1) scale(1.16,1)" text-anchor="middle">5</text>
<text class="tk" transform="translate(418.7,8.1) scale(1.16,1)" text-anchor="middle">6</text>
<text class="tk" transform="translate(456.7,8.1) scale(1.16,1)" text-anchor="middle">7</text>
<text class="tk" transform="translate(512.6,8.1) scale(1.16,1)" text-anchor="middle">8</text>
<text class="tk" transform="translate(570.3,8.1) scale(1.16,1)" text-anchor="middle">9</text>
<text class="tk" transform="translate(627.8,8.1) scale(1.16,1)" text-anchor="middle">10</text>
<text class="tk" transform="translate(682.7,8.1) scale(1.16,1)" text-anchor="middle">11</text>
<text class="tk" transform="translate(695.1,14.3) scale(1.08,1)" text-anchor="middle">0</text>
<text class="tk" transform="translate(695.1,23.0) scale(1.08,1)" text-anchor="middle">10</text>
<text class="tk" transform="translate(695.1,31.0) scale(1.08,1)" text-anchor="middle">20</text>
<text class="tk" transform="translate(695.1,39.0) scale(1.08,1)" text-anchor="middle">30</text>
<text class="tk" transform="translate(695.1,54.0) scale(1.08,1)" text-anchor="middle">50</text>
<text class="tk" transform="translate(695.1,71.5) scale(1.08,1)" text-anchor="middle">75</text>
<text class="tk" transform="translate(695.1,92.8) scale(1.08,1)" text-anchor="middle">100</text>
<text class="tk" transform="translate(695.1,111.0) scale(1.08,1)" text-anchor="middle">125</text>
<text class="tk" transform="translate(695.1,128.1) scale(1.08,1)" text-anchor="middle">150</text>
<text class="tk" transform="translate(695.1,166.0) scale(1.08,1)" text-anchor="middle">200</text>
<text class="tk" transform="translate(695.1,203.4) scale(1.08,1)" text-anchor="middle">250</text>
<text class="tk" transform="translate(695.1,240.2) scale(1.08,1)" text-anchor="middle">300</text>
<text class="tk" transform="translate(695.1,317.0) scale(1.08,1)" text-anchor="middle">400</text>
<text class="tk" transform="translate(695.1,391.8) scale(1.08,1)" text-anchor="middle">500</text>
<text transform="translate(697.7,407.2)" text-anchor="middle" style="font-size:12px">(m)</text>
<text class="ti" x="419.4" y="346.6" textLength="54.6" lengthAdjust="spacing">104Line</text>
<text class="ti" x="419.4" y="363.0" textLength="139" lengthAdjust="spacing">13-16 February 2004</text>
<text class="ti" x="419.4" y="379.4" textLength="153.5" lengthAdjust="spacing">Temperature Anomaly</text>
</svg>
</body></html>
